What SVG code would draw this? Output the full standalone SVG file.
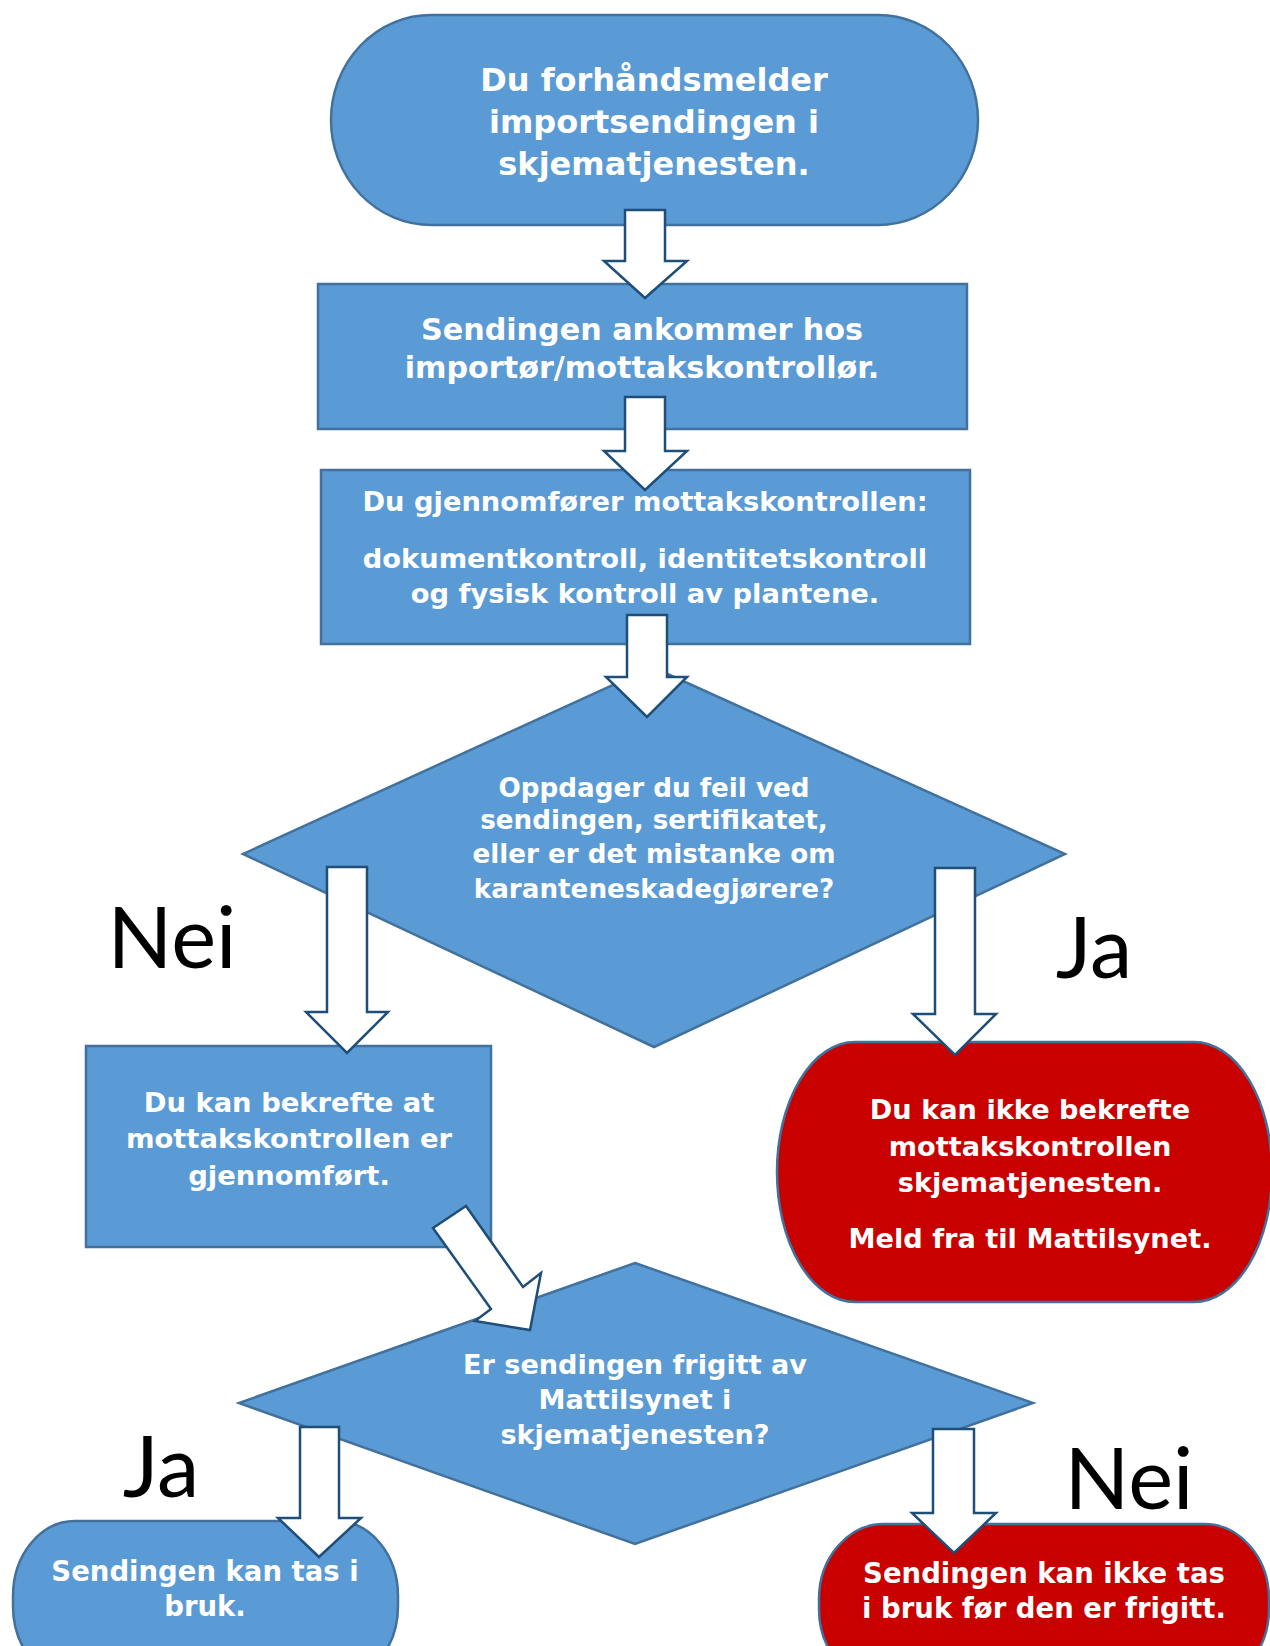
<svg xmlns="http://www.w3.org/2000/svg" width="1270" height="1646" viewBox="0 0 1270 1646">
<style>
.blue{fill:#5B9BD5;stroke:#41719C;stroke-width:2.5}
.red{fill:#C80000;stroke:#41719C;stroke-width:2.5}
.t{font-family:"DejaVu Sans","Verdana",sans-serif;font-weight:bold;fill:#FFFFFF;text-anchor:middle}
.lbl{font-family:Lato,"Open Sans",sans-serif;font-size:85px;fill:#000000;text-anchor:middle}
.arr{fill:#FFFFFF;stroke:#1F4E79;stroke-width:2.5;stroke-linejoin:miter}
</style>
<rect width="1270" height="1646" fill="#FFFFFF"/>
<g id="start">
<rect class="blue" x="331" y="15" width="647" height="210" rx="100" ry="105"/>
<text class="t" font-size="32" x="654" y="91">Du forhåndsmelder</text>
<text class="t" font-size="32" x="654" y="133">importsendingen i</text>
<text class="t" font-size="32" x="654" y="175">skjematjenesten.</text>
</g>
<g id="ankommer">
<rect class="blue" x="318" y="284" width="649" height="145"/>
<text class="t" font-size="30.2" x="642" y="340">Sendingen ankommer hos</text>
<text class="t" font-size="30.2" x="642" y="378">importør/mottakskontrollør.</text>
</g>
<g id="mottakskontroll">
<rect class="blue" x="321" y="470" width="649" height="174"/>
<text class="t" font-size="27.3" x="645" y="511">Du gjennomfører mottakskontrollen:</text>
<text class="t" font-size="27.3" x="645" y="568">dokumentkontroll, identitetskontroll</text>
<text class="t" font-size="27.3" x="645" y="603">og fysisk kontroll av plantene.</text>
</g>
<g id="beslutning1">
<polygon class="blue" points="652,667 1065,854 654,1047 243,854"/>
<text class="t" font-size="26.2" x="654" y="797">Oppdager du feil ved</text>
<text class="t" font-size="26.2" x="654" y="829">sendingen, sertifikatet,</text>
<text class="t" font-size="26.2" x="654" y="863">eller er det mistanke om</text>
<text class="t" font-size="26.2" x="654" y="898">karanteneskadegjørere?</text>
</g>
<g id="bekreft">
<rect class="blue" x="86" y="1046" width="405" height="201"/>
<text class="t" font-size="27.4" x="289" y="1112">Du kan bekrefte at</text>
<text class="t" font-size="27.4" x="289" y="1148">mottakskontrollen er</text>
<text class="t" font-size="27.4" x="289" y="1185">gjennomført.</text>
</g>
<g id="ikke-bekreft">
<rect class="red" x="777" y="1042" width="495" height="260" rx="78" ry="130"/>
<text class="t" font-size="27.2" x="1030" y="1119">Du kan ikke bekrefte</text>
<text class="t" font-size="27.2" x="1030" y="1156">mottakskontrollen</text>
<text class="t" font-size="27.2" x="1030" y="1192">skjematjenesten.</text>
<text class="t" font-size="27.2" x="1030" y="1248">Meld fra til Mattilsynet.</text>
</g>
<g id="beslutning2">
<polygon class="blue" points="635,1263 1033,1403 635,1544 239,1403"/>
<text class="t" font-size="27.1" x="635" y="1374">Er sendingen frigitt av</text>
<text class="t" font-size="27.1" x="635" y="1409">Mattilsynet i</text>
<text class="t" font-size="27.1" x="635" y="1444">skjematjenesten?</text>
</g>
<g id="i-bruk">
<rect class="blue" x="13" y="1521" width="385" height="160" rx="62" ry="75"/>
<text class="t" font-size="27.5" x="205" y="1581">Sendingen kan tas i</text>
<text class="t" font-size="27.5" x="205" y="1616">bruk.</text>
</g>
<g id="ikke-i-bruk">
<rect class="red" x="819" y="1524" width="450" height="160" rx="65" ry="75"/>
<text class="t" font-size="27.5" x="1044" y="1583">Sendingen kan ikke tas</text>
<text class="t" font-size="27.5" x="1044" y="1618">i bruk før den er frigitt.</text>
</g>
<g id="labels">
<text class="lbl" x="172" y="968">Nei</text>
<text class="lbl" x="1094" y="978">Ja</text>
<text class="lbl" x="161" y="1497">Ja</text>
<text class="lbl" x="1129" y="1509">Nei</text>
</g>
<g id="connectors">
<polygon class="arr" points="625,210 665,210 665,261 687,261 645,298 604,261 625,261"/>
<polygon class="arr" points="625,397 665,397 665,451 687,451 645,490 604,451 625,451"/>
<polygon class="arr" points="627,615 667,615 667,677 687,677 647,717 606,677 627,677"/>
<polygon class="arr" points="327,867 367,867 367,1012 388,1012 347,1053 306,1012 327,1012"/>
<polygon class="arr" points="935,868 975,868 975,1014 996,1014 955,1055 913,1014 935,1014"/>
<polygon class="arr" points="433,1228 466,1206 523,1287 541,1273 530,1330 475,1321 491,1309"/>
<polygon class="arr" points="300,1427 339,1427 339,1518 361,1518 319,1557 278,1518 300,1518"/>
<polygon class="arr" points="933,1429 974,1429 974,1513 996,1513 954,1553 912,1513 933,1513"/>
</g>
</svg>
